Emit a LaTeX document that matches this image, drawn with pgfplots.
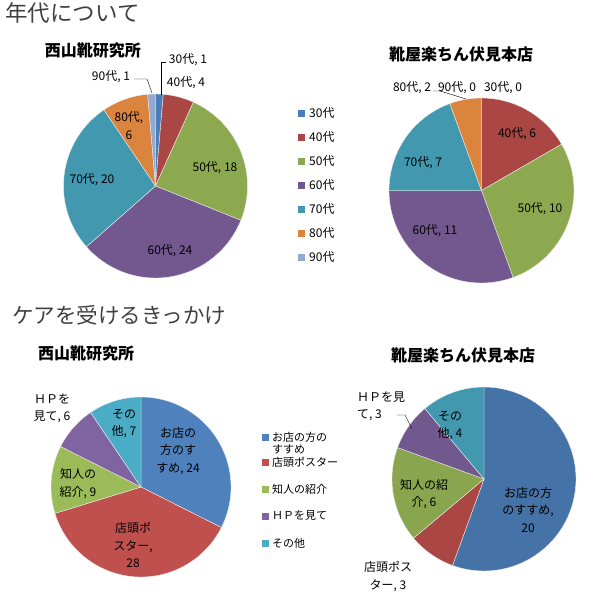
\documentclass[border=0pt]{standalone}
\usepackage{fontspec}
\setmainfont{Noto Sans CJK JP}
\usepackage{pgfplots}
\pgfplotsset{compat=1.18}

% top charts (age)
\definecolor{aBlue}{HTML}{4A7EBB}
\definecolor{aRed}{HTML}{AA4643}
\definecolor{aGreen}{HTML}{8DA94F}
\definecolor{aPurple}{HTML}{72588F}
\definecolor{aTeal}{HTML}{4198AF}
\definecolor{aOrange}{HTML}{DB843D}
\definecolor{aLight}{HTML}{93A9CF}
% bottom left
\definecolor{bBlue}{HTML}{4F81BD}
\definecolor{bRed}{HTML}{C0504D}
\definecolor{bGreen}{HTML}{9BBB59}
\definecolor{bPurple}{HTML}{8064A2}
\definecolor{bAqua}{HTML}{4BACC6}
% bottom right
\definecolor{cBlue}{HTML}{4572A7}
\definecolor{cRed}{HTML}{AA4643}
\definecolor{cGreen}{HTML}{89A54E}
\definecolor{cPurple}{HTML}{71588F}
\definecolor{cTeal}{HTML}{4198AF}

% slices clockwise from 12 o'clock, list of value/colour
\newcommand\pieslices[1]{%
  \gdef\cum{0}\gdef\tot{0}%
  \foreach \v/\c in {#1} {\pgfmathparse{\tot+\v}\xdef\tot{\pgfmathresult}}%
  \foreach \v/\c in {#1} {%
    \ifdim\v pt>0pt
      \pgfmathsetmacro\a{90-\cum/\tot*360}%
      \pgfmathsetmacro\b{90-(\cum+\v)/\tot*360}%
      \edef\tmp{\noexpand\addplot[fill=\c, draw=white!85!gray, line width=0.4pt,
        domain=\b:\a, samples=60, variable=\noexpand\t]
        ({cos(\noexpand\t)},{sin(\noexpand\t)}) -- (axis cs:0,0) -- cycle;}%
      \tmp
    \fi
    \pgfmathparse{\cum+\v}\xdef\cum{\pgfmathresult}%
  }%
}

\pgfplotsset{pie/.style={hide axis, scale only axis, clip=false,
  xmin=-1, xmax=1, ymin=-1, ymax=1, anchor=center}}

\tikzset{lab/.style={font=\fontsize{12}{17.5}\selectfont, align=center, inner sep=0pt},
  ttl/.style={font=\fontsize{21.5}{24}\selectfont, text=black!75, anchor=west, inner sep=0pt},
  sub/.style={font=\fontsize{16}{18}\selectfont\bfseries, inner sep=0pt},
  leg/.style={font=\fontsize{12}{14}\selectfont, anchor=west, inner sep=0pt}}

\begin{document}
\begin{tikzpicture}

\begin{axis}[pie, width=184pt, height=184pt, at={(155.5pt,-186pt)}]
  \pieslices{1/aBlue, 4/aRed, 18/aGreen, 24/aPurple, 20/aTeal, 6/aOrange, 1/aLight}
\end{axis}
\begin{axis}[pie, width=185pt, height=185pt, at={(481.5pt,-190.5pt)}]
  \pieslices{0/aBlue, 6/aRed, 10/aGreen, 11/aPurple, 7/aTeal, 2/aOrange, 0/aLight}
\end{axis}
\begin{axis}[pie, width=180pt, height=180pt, at={(141pt,-487pt)}]
  \pieslices{24/bBlue, 28/bRed, 9/bGreen, 6/bPurple, 7/bAqua}
\end{axis}
\begin{axis}[pie, width=184pt, height=184pt, at={(484pt,-479pt)}]
  \pieslices{20/cBlue, 3/cRed, 6/cGreen, 3/cPurple, 4/cTeal}
\end{axis}

\begin{scope}[x=1pt, y=-1pt]
\node[ttl, font=\fontsize{22.5}{25}\selectfont] at (5,13) {年代について};
\node[ttl] at (12,315) {ケアを受けるきっかけ};

% --- 西山靴研究所, age
\node[sub] at (93,50) {西山靴研究所};
\draw[black, thin] (161,95) -- (161,62) -- (166,62);
\draw[black, thin] (134,79) -- (147,79) -- (152,93);
\node[lab] at (188,60) {30代, 1};
\node[lab] at (186,83) {40代, 4};
\node[lab] at (111,77) {90代, 1};
\node[lab] at (129,125.5) {80代,\\6};
\node[lab] at (92,180) {70代, 20};
\node[lab] at (215,168) {50代, 18};
\node[lab] at (170,251) {60代, 24};

% legend, age
\foreach \c/\t [count=\i from 0] in {aBlue/30代, aRed/40代, aGreen/50代, aPurple/60代, aTeal/70代, aOrange/80代, aLight/90代} {
  \fill[\c] (298,{113+24*\i-3.5}) rectangle (305,{113+24*\i+3.5});
  \node[leg] at (309,{113+24*\i}) {\t};
}

% --- 靴屋楽ちん伏見本店, age
\node[sub] at (461,54) {靴屋楽ちん伏見本店};
\draw[black, thin] (433,91) -- (440,91) -- (466,99);
\node[lab] at (412,88) {80代, 2};
\node[lab] at (457,88) {90代, 0};
\node[lab] at (503,88) {30代, 0};
\node[lab] at (517,134) {40代, 6};
\node[lab] at (423,163) {70代, 7};
\node[lab] at (540,209) {50代, 10};
\node[lab] at (435,231) {60代, 11};

% --- 西山靴研究所, reason
\node[sub] at (86,353) {西山靴研究所};
\node[lab] at (178,451) {お店の\\方のす\\すめ, 24};
\node[lab] at (133,545) {店頭ポ\\スター,\\28};
\node[lab] at (78,483.5) {知人の\\紹介, 9};
\node[lab] at (52,408.5) {ＨＰを\\見て, 6};
\node[lab] at (124,423.5) {その\\他, 7};

% legend, reason
\foreach \c/\y in {bBlue/437, bRed/462, bGreen/489, bPurple/516, bAqua/543} {
  \fill[\c] (262,\y-3.5) rectangle (269,\y+3.5);
}
\tikzset{leg/.append style={font=\fontsize{11}{13}\selectfont}}
\node[leg] at (272,437) {お店の方の};
\node[leg] at (272,449) {すすめ};
\node[leg] at (272,462) {店頭ポスター};
\node[leg] at (272,489) {知人の紹介};
\node[leg] at (272,516) {ＨＰを見て};
\node[leg] at (272,543) {その他};

% --- 靴屋楽ちん伏見本店, reason
\node[sub] at (463,355) {靴屋楽ちん伏見本店};
\draw[black, thin] (397,415) -- (405,415) -- (412,429);
\node[lab] at (528,510) {お店の方\\のすすめ,\\20};
\node[lab] at (388,576.5) {店頭ポス\\ター, 3};
\node[lab] at (424,494) {知人の紹\\介, 6};
\node[lab, anchor=west, align=left] at (357,406.5) {ＨＰを見\\て, 3};
\node[lab] at (450,425.5) {その\\他, 4};
\end{scope}

\pgfresetboundingbox
\path[use as bounding box] (0,0) rectangle (614pt,-598pt);
\end{tikzpicture}
\end{document}
